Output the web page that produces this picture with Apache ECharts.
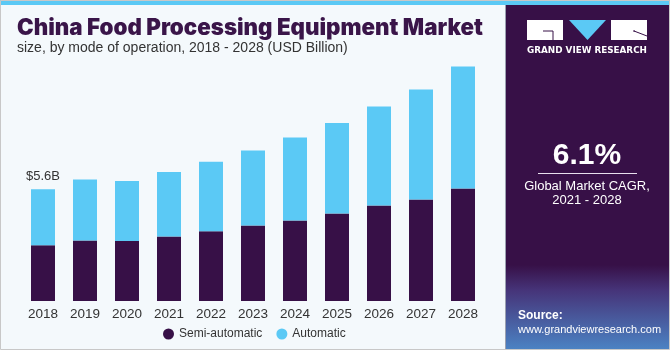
<!DOCTYPE html>
<html>
<head>
<meta charset="utf-8">
<script src="https://cdn.jsdelivr.net/npm/echarts@6/dist/echarts.min.js"></script>
<style>
html,body{margin:0;padding:0;background:#f4f9fc;}
#c{width:670px;height:350px;}
</style>
</head>
<body>
<div id="c"></div>
<script>
var years = ['2018','2019','2020','2021','2022','2023','2024','2025','2026','2027','2028'];
var semiAutomatic = [2.79, 3.03, 3.00, 3.23, 3.49, 3.77, 4.03, 4.37, 4.77, 5.08, 5.63];
var automatic     = [2.80, 3.05, 3.00, 3.22, 3.47, 3.75, 4.15, 4.53, 4.95, 5.50, 6.10];
var firstTotalLabel = '$5.6B';
var titleText = 'China Food Processing Equipment Market';
var subtitleText = 'size, by mode of operation, 2018 - 2028 (USD Billion)';
var cagrText = '6.1%';
var cagrCaption = 'Global Market CAGR,\n2021 - 2028';

var DARK = '#371047';
var BLUE = '#5bc9f5';

var chart = echarts.init(document.getElementById('c'), null, {renderer:'canvas'});

var autoData = automatic.map(function(v, i){
  if (i === 0) {
    return {value: v, label: {show: true, position: 'top', distance: 6, formatter: firstTotalLabel,
      color: '#333', fontSize: 13, fontFamily: 'Liberation Sans'}};
  }
  return v;
});

var option = {
  backgroundColor: '#f4f9fc',
  animation: false,
  grid: {left: 22, right: 186, top: 61, height: 240, containLabel: false},
  xAxis: {
    type: 'category', data: years,
    axisLine: {show: false}, axisTick: {show: false},
    axisLabel: {color: '#333', fontSize: 13.5, fontFamily: 'Liberation Sans', margin: 6}
  },
  yAxis: {type: 'value', min: 0, max: 12, show: false, splitLine: {show: false}},
  legend: {
    data: ['Semi-automatic', 'Automatic'],
    left: 158, top: 323, icon: 'circle', itemWidth: 11, itemHeight: 11, itemGap: 14, itemStyle: {borderWidth: 0},
    textStyle: {color: '#333', fontSize: 12, fontFamily: 'Liberation Sans'}
  },
  series: [
    {name: 'Semi-automatic', type: 'bar', stack: 't', data: semiAutomatic, barWidth: 24,
     itemStyle: {color: DARK}},
    {name: 'Automatic', type: 'bar', stack: 't', data: autoData, barWidth: 24,
     itemStyle: {color: BLUE}}
  ],
  graphic: [
    {type: 'rect', shape: {x: 0, y: 0, width: 670, height: 5}, style: {fill: BLUE}, z: 10},
    {type: 'rect', shape: {x: 0.5, y: 0.5, width: 669, height: 349}, style: {fill: 'none', stroke: '#c8c8c8', lineWidth: 1}, z: 11},
    {type: 'rect', shape: {x: 506, y: 5, width: 163, height: 344}, style: {fill: DARK}, z: 5},
    {type: 'rect', shape: {x: 506, y: 265, width: 163, height: 84},
     style: {fill: new echarts.graphic.LinearGradient(0, 0, 0, 1, [
       {offset: 0, color: 'rgba(55,16,71,1)'},
       {offset: 0.3, color: '#463479'},
       {offset: 1, color: '#4b82c3'}
     ])}, z: 6},
    {type: 'line', shape: {x1: 505.5, y1: 5, x2: 505.5, y2: 349}, style: {stroke: '#9aa0b0', lineWidth: 1}, z: 7},
    {type: 'rect', shape: {x: 527, y: 20, width: 36, height: 20}, style: {fill: '#fff'}, z: 8},
    {type: 'polyline', shape: {points: [[543, 31], [553, 31], [553, 40]]}, style: {stroke: DARK, lineWidth: 1, fill: 'none'}, z: 9},
    {type: 'polygon', shape: {points: [[569, 20], [606, 20], [587.5, 40]]}, style: {fill: BLUE}, z: 8},
    {type: 'rect', shape: {x: 611, y: 20, width: 36, height: 20}, style: {fill: '#fff'}, z: 8},
    {type: 'line', shape: {x1: 634, y1: 31, x2: 647, y2: 36}, style: {stroke: DARK, lineWidth: 1}, z: 9},
    {type: 'line', shape: {x1: 634, y1: 30, x2: 634, y2: 32}, style: {stroke: DARK, lineWidth: 1}, z: 9},
    {type: 'text', x: 587, y: 51, style: {text: 'GRAND VIEW RESEARCH', fill: '#fff', font: 'bold 8.8px "DejaVu Sans"', align: 'center', verticalAlign: 'middle'}, z: 9},
    {type: 'text', x: 587, y: 156, style: {text: cagrText, fill: '#fff', font: 'bold 30px "Liberation Sans"', align: 'center', verticalAlign: 'middle'}, z: 9},
    {type: 'line', shape: {x1: 538, y1: 173.5, x2: 637, y2: 173.5}, style: {stroke: '#e8e0ee', lineWidth: 1}, z: 9},
    {type: 'text', x: 587, y: 193, style: {text: cagrCaption, fill: '#fff', font: '13px "Liberation Sans"', align: 'center', verticalAlign: 'middle', lineHeight: 14}, z: 9},
    {type: 'text', x: 518, y: 316, style: {text: 'Source:', fill: '#fff', font: 'bold 12px "Liberation Sans"', align: 'left', verticalAlign: 'middle'}, z: 9},
    {type: 'text', x: 518, y: 330, style: {text: 'www.grandviewresearch.com', fill: '#fff', font: '11px "Liberation Sans"', align: 'left', verticalAlign: 'middle'}, z: 9},
    {type: 'text', x: 17, y: 28, style: {text: titleText, fill: '#3a1549', font: '900 22.3px "Inter"', align: 'left', verticalAlign: 'middle'}, z: 9},
    {type: 'text', x: 17, y: 48, style: {text: subtitleText, fill: '#333', font: '14px "Liberation Sans"', align: 'left', verticalAlign: 'middle'}, z: 9}
  ]
};
chart.setOption(option);
</script>
</body>
</html>
